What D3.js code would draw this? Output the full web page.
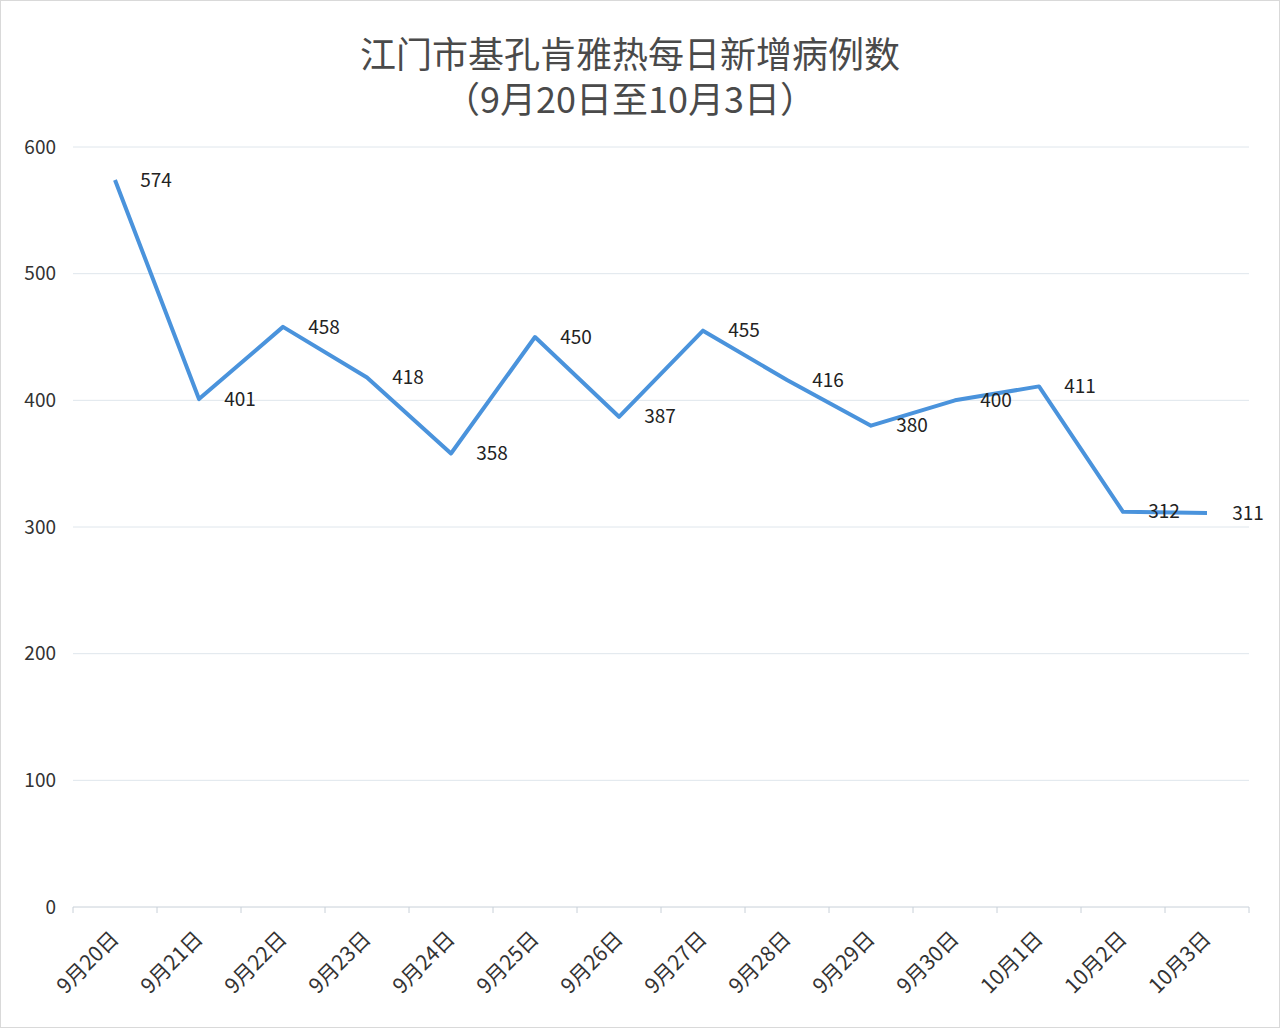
<!DOCTYPE html>
<html>
<head>
<meta charset="utf-8">
<script src="https://cdn.jsdelivr.net/npm/d3@7"></script>
<style>
  body { margin: 0; background: #fff; }
  svg { display: block; }
</style>
</head>
<body>
<svg id="chart" width="1280" height="1028"></svg>
<script>
// data
const dates = ['9月20日', '9月21日', '9月22日', '9月23日', '9月24日', '9月25日', '9月26日',
    '9月27日', '9月28日', '9月29日', '9月30日', '10月1日', '10月2日', '10月3日'];
const cases = [574, 401, 458, 418, 358, 450, 387, 455, 416, 380, 400, 411, 312, 311];
const yTicks = [0, 100, 200, 300, 400, 500, 600];
const titleLines = ['江门市基孔肯雅热每日新增病例数', '（9月20日至10月3日）'];

const font = '"Noto Sans CJK SC", "Noto Sans", sans-serif';
const svg = d3.select('#chart');

svg.append('rect')
    .attr('x', 0.5).attr('y', 0.5).attr('width', 1279).attr('height', 1027)
    .attr('fill', '#fff').attr('stroke', '#d9d9d9');

let margin = {top: 147, right: 31, bottom: 121, left: 73};
let width = 1280 - margin.left - margin.right;
let height = 1028 - margin.top - margin.bottom;

let g = svg.append('g')
    .attr('transform', 'translate(' + margin.left + ',' + margin.top + ')');

let xScale = d3.scaleBand().domain(dates).range([0, width]);
let yScale = d3.scaleLinear().domain([0, 600]).range([height, 0]);

// Grid lines
g.selectAll('.grid')
    .data(yTicks)
    .enter().append('line')
    .attr('x1', 0).attr('x2', width)
    .attr('y1', d => yScale(d)).attr('y2', d => yScale(d))
    .attr('stroke', d => d === 0 ? '#c8d0d8' : '#dfe6ec')
    .attr('stroke-width', 1);

// Y labels
g.selectAll('.ylab')
    .data(yTicks)
    .enter().append('text')
    .attr('x', -17).attr('y', d => yScale(d))
    .attr('dy', '0.35em')
    .attr('text-anchor', 'end')
    .attr('font-family', font).attr('font-size', 19)
    .attr('fill', '#333')
    .text(d => d);

// X ticks at band edges
let edges = dates.map(d => xScale(d)).concat([width]);
g.selectAll('.xtick')
    .data(edges)
    .enter().append('line')
    .attr('x1', d => d).attr('x2', d => d)
    .attr('y1', height).attr('y2', height + 6)
    .attr('stroke', '#c8d0d8');

// X labels rotated
g.selectAll('.xlab')
    .data(dates)
    .enter().append('text')
    .attr('transform', d => 'translate(' + (xScale(d) + xScale.bandwidth() / 2) + ',' + (height + 28) + ') rotate(-45)')
    .attr('text-anchor', 'end')
    .attr('dy', '0.35em')
    .attr('font-family', font).attr('font-size', 21)
    .attr('fill', '#333')
    .text(d => d);

// Line
let line = d3.line()
    .x((d, i) => xScale(dates[i]) + xScale.bandwidth() / 2)
    .y(d => yScale(d));

g.append('path')
    .datum(cases)
    .attr('d', line)
    .attr('fill', 'none')
    .attr('stroke', '#4a93dc')
    .attr('stroke-width', 4)
    .attr('stroke-linejoin', 'round');

// Value labels
g.selectAll('.vlab')
    .data(cases)
    .enter().append('text')
    .attr('x', (d, i) => xScale(dates[i]) + xScale.bandwidth() / 2 + 41)
    .attr('y', d => yScale(d))
    .attr('dy', '0.35em')
    .attr('text-anchor', 'middle')
    .attr('font-family', font).attr('font-size', 19)
    .attr('fill', '#222')
    .text(d => d);

// Title
svg.selectAll('.title')
    .data(titleLines)
    .enter().append('text')
    .attr('x', 630).attr('y', (d, i) => 55 + i * 45)
    .attr('dy', '0.35em')
    .attr('text-anchor', 'middle')
    .attr('font-family', font).attr('font-size', 36)
    .attr('fill', '#4a4a4a')
    .text(d => d);
</script>
</body>
</html>
